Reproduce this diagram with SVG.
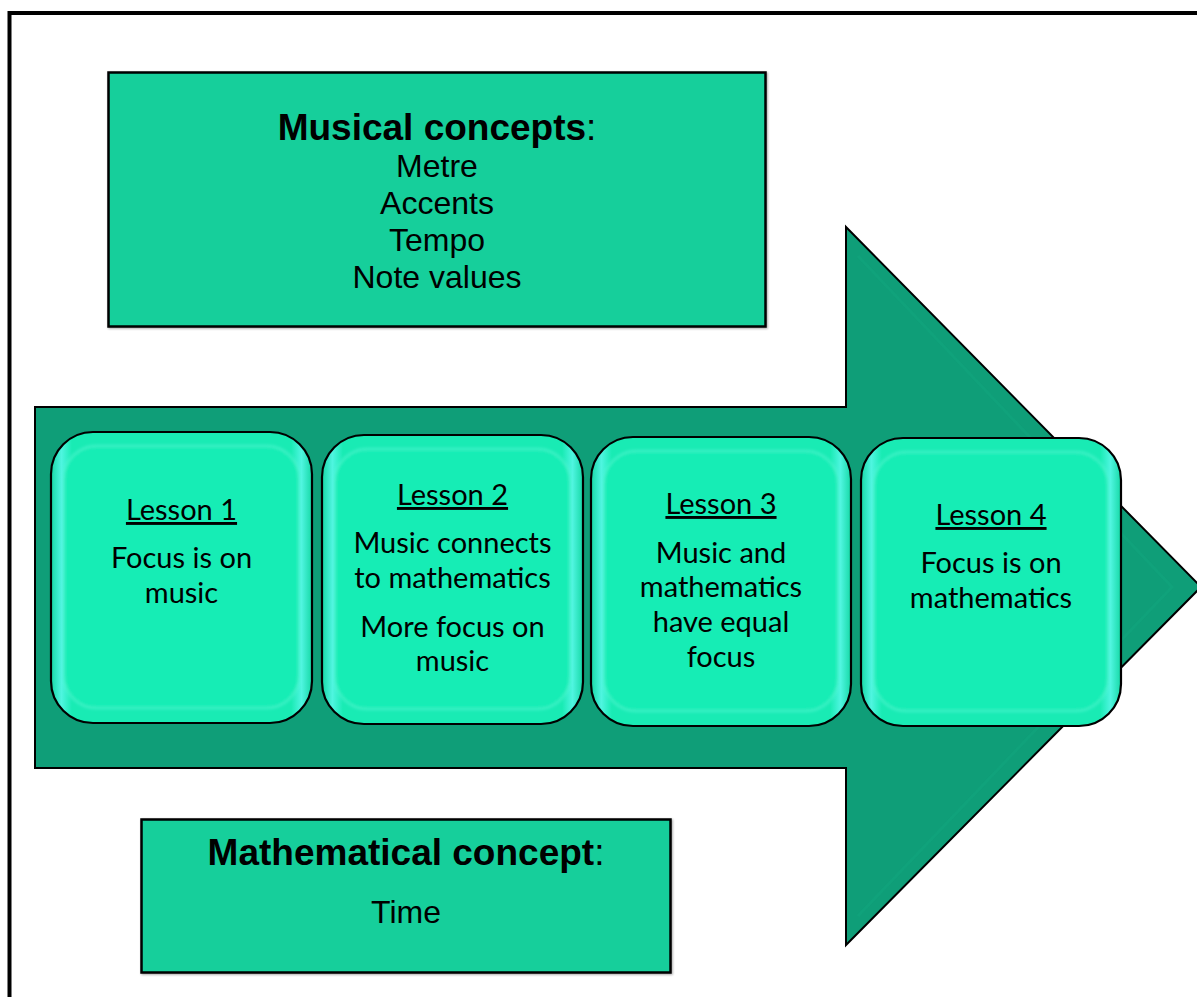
<svg xmlns="http://www.w3.org/2000/svg" width="1197" height="997" viewBox="0 0 1197 997">
  <defs>
    <style>
      .frame { fill: none; stroke: #000; stroke-width: 4; }
      .concept { fill: #12CF9B; stroke: #000; stroke-width: 2.5; }
      .head { font-family: "Liberation Sans", Arial, sans-serif; font-size: 37px; font-weight: bold; fill: #000; text-anchor: middle; }
      .item { font-family: "Liberation Sans", Arial, sans-serif; font-size: 32px; fill: #000; text-anchor: middle; }
      .arrow { fill: #0F9E78; stroke: #000; stroke-width: 2; stroke-linejoin: miter; }
      .card { fill: url(#cardFill); stroke: #000; stroke-width: 2.2; }
      .card-inner { fill: #18EDB5; stroke: #7FFFF0; stroke-width: 2.5; stroke-opacity: 0.3; filter: url(#soft); }
      .lesson { font-family: Lato, "Open Sans", sans-serif; font-size: 29px; fill: #000; text-anchor: middle; }
      .lesson-title { text-decoration: underline; }
    </style>
    <linearGradient id="cardFill" x1="0" y1="0" x2="1" y2="0">
      <stop offset="0" stop-color="#16D9A6"/>
      <stop offset="0.04" stop-color="#4FF5E0"/>
      <stop offset="0.08" stop-color="#19EBB4"/>
      <stop offset="0.92" stop-color="#19EBB4"/>
      <stop offset="0.96" stop-color="#4FF5E0"/>
      <stop offset="1" stop-color="#16D9A6"/>
    </linearGradient>
    <filter id="soft" x="-5%" y="-5%" width="110%" height="110%">
      <feGaussianBlur stdDeviation="1.5"/>
    </filter>
    <filter id="boxShadow" x="-2%" y="-2%" width="105%" height="105%">
      <feDropShadow dx="1" dy="1" stdDeviation="0.8" flood-color="#000" flood-opacity="0.35"/>
    </filter>
  </defs>

  <rect width="1197" height="997" fill="#fff"/>

  <!-- page border -->
  <path class="frame" d="M9.5,997 V13 H1197"/>

  <!-- big arrow -->
  <g id="arrow">
    <path class="arrow" d="M35,407 H846 V227 L1201,587 L846,945 V768 H35 Z"/>
    <path d="M858,256 L1172,587 L858,916" fill="none" stroke="#15A980" stroke-width="3" stroke-opacity="0.35"/>
  </g>

  <!-- musical concepts box -->
  <g id="musical-concepts">
    <rect class="concept" x="108.5" y="72.5" width="657" height="254" filter="url(#boxShadow)"/>
    <text class="head" x="437" y="140">Musical concepts<tspan font-weight="normal">:</tspan></text>
    <text class="item" x="437" y="177">Metre</text>
    <text class="item" x="437" y="214">Accents</text>
    <text class="item" x="437" y="251">Tempo</text>
    <text class="item" x="437" y="288">Note values</text>
  </g>

  <!-- mathematical concept box -->
  <g id="mathematical-concept">
    <rect class="concept" x="141.5" y="819.5" width="529" height="153" filter="url(#boxShadow)"/>
    <text class="head" x="406" y="865">Mathematical concept<tspan font-weight="normal">:</tspan></text>
    <text class="item" x="406" y="923">Time</text>
  </g>

  <!-- lesson cards -->
  <g id="lesson-1">
    <rect class="card" x="51" y="432" width="261" height="291" rx="42"/>
    <rect class="card-inner" x="64" y="446" width="235" height="262" rx="32"/>
    <text class="lesson lesson-title" x="181.5" y="520">Lesson 1</text>
    <text class="lesson" x="181.5" y="568">Focus is on</text>
    <text class="lesson" x="181.5" y="603">music</text>
  </g>

  <g id="lesson-2">
    <rect class="card" x="322" y="435" width="261" height="289" rx="42"/>
    <rect class="card-inner" x="335" y="449" width="235" height="260" rx="32"/>
    <text class="lesson lesson-title" x="452.5" y="505">Lesson 2</text>
    <text class="lesson" x="452.5" y="553">Music connects</text>
    <text class="lesson" x="452.5" y="588">to mathematics</text>
    <text class="lesson" x="452.5" y="637">More focus on</text>
    <text class="lesson" x="452.5" y="671">music</text>
  </g>

  <g id="lesson-3">
    <rect class="card" x="591" y="437" width="260" height="289" rx="42"/>
    <rect class="card-inner" x="604" y="451" width="234" height="260" rx="32"/>
    <text class="lesson lesson-title" x="721" y="514">Lesson 3</text>
    <text class="lesson" x="721" y="563">Music and</text>
    <text class="lesson" x="721" y="597">mathematics</text>
    <text class="lesson" x="721" y="632">have equal</text>
    <text class="lesson" x="721" y="667">focus</text>
  </g>

  <g id="lesson-4">
    <rect class="card" x="861" y="438" width="260" height="288" rx="42"/>
    <rect class="card-inner" x="874" y="452" width="234" height="259" rx="32"/>
    <text class="lesson lesson-title" x="991" y="525">Lesson 4</text>
    <text class="lesson" x="991" y="573">Focus is on</text>
    <text class="lesson" x="991" y="608">mathematics</text>
  </g>
</svg>
